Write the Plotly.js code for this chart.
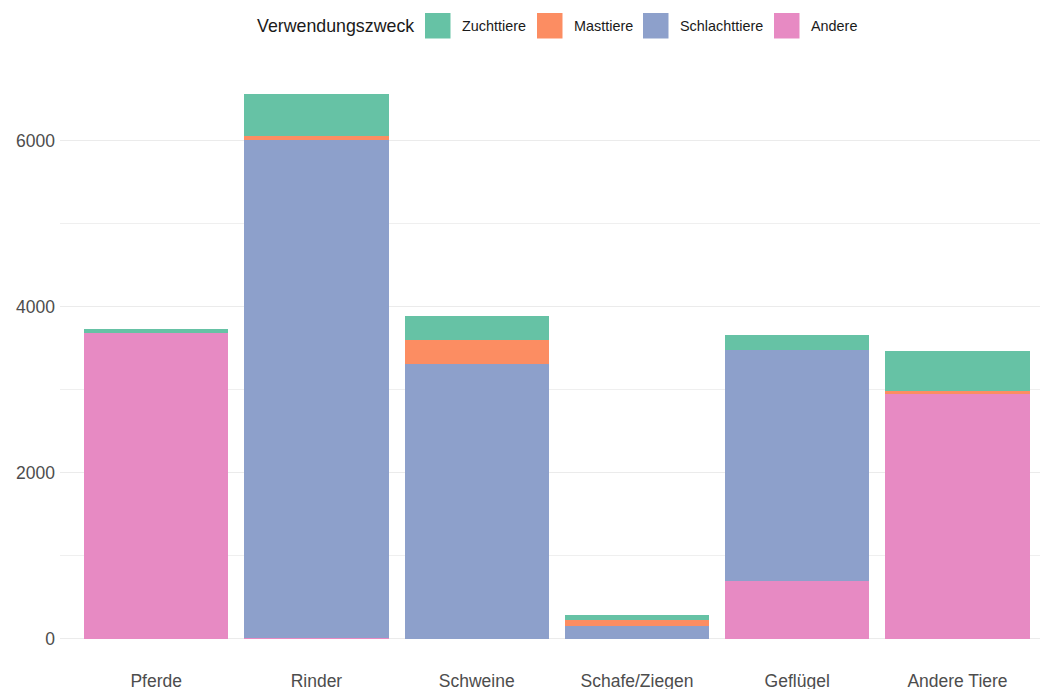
<!DOCTYPE html>
<html>
<head>
<meta charset="utf-8">
<script src="https://cdn.plot.ly/plotly-3.0.1.min.js"></script>
<style>html,body{margin:0;padding:0;background:#fff;}#chart{width:1040px;height:689px;}</style>
</head>
<body>
<div id="chart"></div>
<script>
const categories = ["Pferde", "Rinder", "Schweine", "Schafe/Ziegen", "Geflügel", "Andere Tiere"];
const andere = [3678, 15, 0, 0, 692, 2952];
const schlachttiere = [0, 5987, 3309, 150, 2781, 0];
const masttiere = [0, 56, 293, 73, 0, 28];
const zuchttiere = [48, 498, 281, 60, 181, 481];
const seriesNames = ["Andere", "Schlachttiere", "Masttiere", "Zuchttiere"];
const seriesColors = ["#e78ac3", "#8da0cb", "#fc8d62", "#66c2a5"];
const seriesValues = [andere, schlachttiere, masttiere, zuchttiere];
const legendTitle = "Verwendungszweck";

const W = 1040, H = 689, ML = 60, MR = 0, MT = 67, MB = 23;
const PW = W - ML - MR, PH = H - MT - MB;
const px2x = p => (p - ML) / PW;
const py2y = p => (H - MB - p) / PH;

const traces = seriesValues.map((vals, i) => ({
  type: "bar", x: categories, y: vals, name: seriesNames[i],
  marker: {color: seriesColors[i], line: {width: 0}},
  showlegend: false
}));

// manual legend (larger swatches, as in the reference), order: top of stack first
const legendOrder = [3, 2, 1, 0];
const swatchLeft = [425, 537, 643, 774];
const shapes = [], annotations = [];
annotations.push({
  xref: "paper", yref: "paper", x: px2x(416), y: py2y(26), xanchor: "right", yanchor: "middle",
  text: legendTitle, showarrow: false, font: {size: 17.8, color: "#1a1a1a"}
});
legendOrder.forEach((si, k) => {
  const L = swatchLeft[k];
  shapes.push({
    type: "rect", xref: "paper", yref: "paper",
    x0: px2x(L), x1: px2x(L + 25.5), y0: py2y(38.5), y1: py2y(13),
    fillcolor: seriesColors[si], line: {width: 0}
  });
  annotations.push({
    xref: "paper", yref: "paper", x: px2x(L + 35), y: py2y(26), xanchor: "left", yanchor: "middle",
    text: seriesNames[si], showarrow: false, font: {size: 14.4, color: "#1a1a1a"}
  });
});

const layout = {
  width: W, height: H,
  barmode: "stack", bargap: 0.1,
  margin: {l: ML, r: MR, t: MT, b: MB},
  paper_bgcolor: "#fff", plot_bgcolor: "#fff",
  showlegend: false,
  font: {family: "Liberation Sans, Arial, sans-serif", color: "#4d4d4d"},
  xaxis: {
    type: "category", range: [-0.6, 5.515], showgrid: false, zeroline: false,
    ticks: "", tickfont: {size: 17.5, color: "#4d4d4d"}, ticklabelstandoff: 2, automargin: false
  },
  yaxis: {
    range: [-328, 6884], tickvals: [0, 2000, 4000, 6000], ticktext: ["0", "2000", "4000", "6000"],
    showgrid: true, gridcolor: "#ebebeb", gridwidth: 1.4, zeroline: false,
    minor: {tickvals: [1000, 3000, 5000], showgrid: true, gridcolor: "#ebebeb", gridwidth: 0.8},
    ticks: "", tickfont: {size: 17.5, color: "#4d4d4d"}, ticklabelstandoff: 4, automargin: false
  },
  shapes: shapes,
  annotations: annotations
};

Plotly.newPlot("chart", traces, layout, {displayModeBar: false, staticPlot: true});
</script>
</body>
</html>
